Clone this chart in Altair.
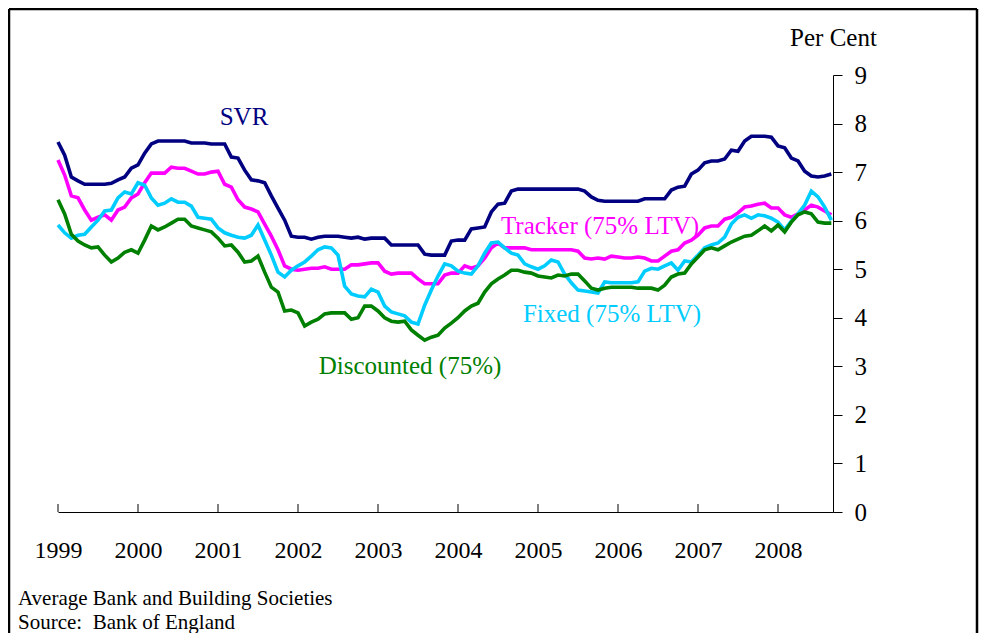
import altair as alt
import pandas as pd

# ---------------- data ----------------
months = list(range(117))  # Jan 1999 ... Sep 2008, monthly index

svr = [7.62, 7.35, 6.90, 6.82, 6.75, 6.75, 6.75, 6.75, 6.77, 6.84, 6.90, 7.08,
       7.15, 7.39, 7.58, 7.64, 7.64, 7.64, 7.64, 7.64, 7.60, 7.60, 7.60, 7.58,
       7.58, 7.58, 7.31, 7.29, 7.04, 6.84, 6.82, 6.78, 6.51, 6.26, 6.01, 5.68,
       5.66, 5.66, 5.62, 5.66, 5.68, 5.68, 5.68, 5.66, 5.64, 5.66, 5.62, 5.64,
       5.64, 5.64, 5.50, 5.50, 5.50, 5.50, 5.50, 5.31, 5.29, 5.29, 5.29, 5.58,
       5.60, 5.60, 5.83, 5.85, 5.87, 6.18, 6.34, 6.36, 6.61, 6.65, 6.65, 6.65,
       6.65, 6.65, 6.65, 6.65, 6.65, 6.65, 6.65, 6.61, 6.49, 6.42, 6.40, 6.40,
       6.40, 6.40, 6.40, 6.40, 6.45, 6.45, 6.45, 6.45, 6.63, 6.69, 6.71, 6.96,
       7.04, 7.19, 7.23, 7.23, 7.27, 7.45, 7.43, 7.64, 7.74, 7.74, 7.74, 7.72,
       7.54, 7.50, 7.29, 7.23, 7.02, 6.92, 6.90, 6.92, 6.96]

tracker = [7.25, 6.94, 6.51, 6.47, 6.22, 6.01, 6.07, 6.12, 6.01, 6.22, 6.28, 6.47,
           6.55, 6.78, 6.98, 6.98, 6.98, 7.10, 7.08, 7.08, 7.02, 6.96, 6.96, 7.00,
           7.02, 6.75, 6.69, 6.43, 6.28, 6.24, 6.18, 5.93, 5.68, 5.40, 5.07, 5.00,
           4.98, 5.00, 5.02, 5.02, 5.05, 5.00, 5.00, 5.00, 5.09, 5.09, 5.11, 5.13,
           5.13, 4.96, 4.90, 4.92, 4.92, 4.92, 4.80, 4.70, 4.70, 4.70, 4.88, 4.92,
           4.92, 5.07, 5.02, 5.07, 5.23, 5.44, 5.54, 5.44, 5.44, 5.44, 5.44, 5.40,
           5.40, 5.40, 5.40, 5.40, 5.40, 5.40, 5.37, 5.23, 5.21, 5.23, 5.21, 5.27,
           5.25, 5.23, 5.23, 5.25, 5.23, 5.17, 5.17, 5.27, 5.37, 5.40, 5.54, 5.60,
           5.70, 5.85, 5.89, 5.89, 6.03, 6.07, 6.16, 6.28, 6.30, 6.34, 6.36, 6.26,
           6.26, 6.12, 6.07, 6.14, 6.22, 6.32, 6.28, 6.20, 6.12]

fixed = [5.91, 5.75, 5.64, 5.70, 5.72, 5.87, 6.01, 6.20, 6.22, 6.47, 6.59, 6.55,
         6.78, 6.73, 6.47, 6.32, 6.36, 6.45, 6.38, 6.38, 6.30, 6.07, 6.05, 6.03,
         5.85, 5.75, 5.70, 5.66, 5.64, 5.70, 5.91, 5.60, 5.29, 4.94, 4.84, 4.98,
         5.07, 5.15, 5.27, 5.40, 5.46, 5.44, 5.29, 4.65, 4.49, 4.45, 4.43, 4.59,
         4.53, 4.24, 4.12, 4.08, 4.04, 3.91, 3.87, 4.26, 4.57, 4.86, 5.11, 5.07,
         4.96, 4.92, 4.90, 5.07, 5.33, 5.54, 5.56, 5.44, 5.33, 5.29, 5.11, 5.05,
         5.00, 5.07, 5.19, 5.15, 4.90, 4.72, 4.57, 4.55, 4.53, 4.51, 4.74, 4.72,
         4.72, 4.72, 4.72, 4.74, 4.96, 5.02, 5.00, 5.07, 5.13, 4.98, 5.17, 5.15,
         5.29, 5.44, 5.50, 5.54, 5.66, 5.93, 6.07, 6.12, 6.05, 6.12, 6.10, 6.05,
         5.97, 5.81, 5.99, 6.14, 6.32, 6.61, 6.49, 6.28, 6.01]

discounted = [6.43, 6.14, 5.72, 5.58, 5.50, 5.44, 5.46, 5.29, 5.15, 5.23, 5.35, 5.40,
              5.33, 5.60, 5.89, 5.81, 5.87, 5.95, 6.03, 6.03, 5.89, 5.85, 5.81, 5.77,
              5.64, 5.48, 5.50, 5.35, 5.15, 5.17, 5.27, 4.94, 4.63, 4.53, 4.14, 4.16,
              4.10, 3.83, 3.91, 3.97, 4.08, 4.10, 4.10, 4.10, 3.97, 4.00, 4.24, 4.24,
              4.14, 4.00, 3.93, 3.91, 3.93, 3.75, 3.64, 3.54, 3.60, 3.64, 3.79, 3.89,
              4.00, 4.14, 4.24, 4.30, 4.53, 4.70, 4.80, 4.88, 4.98, 4.98, 4.94, 4.92,
              4.86, 4.84, 4.82, 4.88, 4.86, 4.90, 4.90, 4.76, 4.61, 4.57, 4.61, 4.63,
              4.63, 4.63, 4.63, 4.61, 4.61, 4.61, 4.57, 4.67, 4.84, 4.90, 4.92, 5.11,
              5.25, 5.40, 5.44, 5.40, 5.48, 5.56, 5.62, 5.68, 5.70, 5.79, 5.89, 5.79,
              5.91, 5.77, 5.97, 6.12, 6.18, 6.14, 5.97, 5.95, 5.95]

series_names = ["SVR", "Tracker (75% LTV)", "Fixed (75% LTV)", "Discounted (75%)"]
series_colors = ["#000080", "#FF00FF", "#00CCFF", "#008000"]

# annotation anchor positions (month index, per cent)
label_month = [27.9, 81.3, 83.1, 52.8]
label_rate = [8.13, 5.89, 4.08, 3.01]

year_ticks = [0, 12, 24, 36, 48, 60, 72, 84, 96, 108]
year_labels = ["1999", "2000", "2001", "2002", "2003", "2004", "2005", "2006", "2007", "2008"]
rate_ticks = [0, 1, 2, 3, 4, 5, 6, 7, 8, 9]

footer_lines = ["Average Bank and Building Societies", "Source:\u00a0 Bank of England"]
y_title = "Per Cent"

# ---------------- build ----------------
rows = []
for name, vals in zip(series_names, [svr, tracker, fixed, discounted]):
    for m, v in zip(months, vals):
        rows.append({"month": m, "rate": v, "series": name})
df = pd.DataFrame(rows)

df_labels = pd.DataFrame({"series": series_names, "lx": label_month, "ly": label_rate})
df_ticks = pd.DataFrame({"month": year_ticks})

FONT = "Liberation Serif"
W, H = 775, 437

xscale = alt.Scale(domain=[0, 116.25], nice=False, zero=False)
yscale = alt.Scale(domain=[0, 9], nice=False, zero=True)
color = alt.Color("series:N", scale=alt.Scale(domain=series_names, range=series_colors), legend=None)

label_expr = "[" + ",".join("'" + s + "'" for s in year_labels) + "][round(datum.value/12)]"

x_axis = alt.Axis(values=year_ticks, labelExpr=label_expr, title=None, grid=False,
                  ticks=False, tickSize=0, domain=True, domainColor="black", domainWidth=1,
                  labelFont=FONT, labelFontSize=24, labelColor="black",
                  labelPadding=45, labelBaseline="alphabetic", labelAlign="center",
                  labelOverlap=False, labelFlush=False)

y_axis = alt.Axis(orient="right", values=rate_ticks, grid=False, format="d",
                  domain=True, domainColor="black", domainWidth=1,
                  ticks=True, tickColor="black", tickSize=9, tickWidth=1,
                  labelFont=FONT, labelFontSize=25, labelColor="black",
                  labelPadding=12, labelAlign="left", labelBaseline="middle",
                  title=y_title, titleAngle=0, titleX=0, titleY=-30,
                  titleAlign="center", titleBaseline="alphabetic",
                  titleFont=FONT, titleFontSize=25, titleFontWeight="normal", titleColor="black")

lines = alt.Chart(df).mark_line(strokeWidth=3.6, strokeJoin="miter").encode(
    x=alt.X("month:Q", scale=xscale, axis=x_axis),
    y=alt.Y("rate:Q", scale=yscale, axis=y_axis),
    color=color,
    order=alt.Order("month:Q"),
)

tick_marks = alt.Chart(df_ticks).mark_rule(color="black", strokeWidth=1).encode(
    x=alt.X("month:Q", scale=xscale),
    y=alt.value(H),
    y2=alt.value(H - 8),
)

labels = alt.Chart(df_labels).mark_text(font=FONT, fontSize=25, align="center",
                                        baseline="middle").encode(
    x=alt.X("lx:Q", scale=xscale),
    y=alt.Y("ly:Q", scale=yscale),
    text="series:N",
    color=color,
)

foot1 = alt.Chart(pd.DataFrame({"t": [footer_lines[0]]})).mark_text(
    font=FONT, fontSize=21, align="left", baseline="alphabetic", color="black").encode(
    text="t:N", x=alt.value(-40), y=alt.value(530))
foot2 = alt.Chart(pd.DataFrame({"t": [footer_lines[1]]})).mark_text(
    font=FONT, fontSize=21, align="left", baseline="alphabetic", color="black").encode(
    text="t:N", x=alt.value(-40), y=alt.value(554))

frame_src = pd.DataFrame({"k": [0]})
frame_top = alt.Chart(frame_src).mark_rule(color="black", strokeWidth=2.5).encode(
    x=alt.value(-49), x2=alt.value(919), y=alt.value(-66))
frame_left = alt.Chart(frame_src).mark_rule(color="black", strokeWidth=2.5).encode(
    x=alt.value(-49), y=alt.value(-66), y2=alt.value(H + 130))
frame_right = alt.Chart(frame_src).mark_rule(color="black", strokeWidth=2.5).encode(
    x=alt.value(919), y=alt.value(-66), y2=alt.value(H + 130))

chart = alt.layer(
    lines, tick_marks, labels, foot1, foot2, frame_top, frame_left, frame_right
).properties(
    width=W, height=H,
    autosize=alt.AutoSizeParams(type="none"),
    padding={"left": 50, "top": 67, "right": 146, "bottom": 125},
    background="white",
).configure_view(strokeWidth=0)

chart.save("out.html", embed_options={"renderer": "svg", "actions": False})
